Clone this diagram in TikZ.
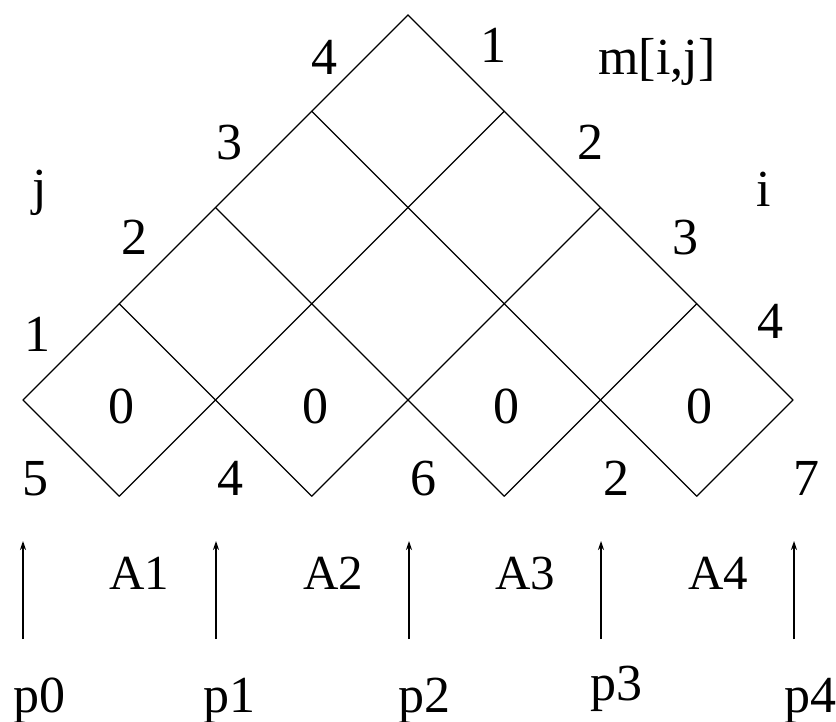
\documentclass[tikz,border=0pt]{standalone}
\usepackage{fontspec}
\setmainfont{Liberation Serif}
\usetikzlibrary{arrows.meta}
\tikzset{
  grid line/.style={line width=1.2pt, line cap=round, line join=miter},
  up arrow/.style={line width=1.3pt, -{Stealth[length=9pt,width=6pt]}},
  lbl/.style={anchor=base, inner sep=0pt, font=\fontsize{52}{52}\selectfont},
  albl/.style={lbl, font=\fontsize{49}{49}\selectfont}
}
\begin{document}
\begin{tikzpicture}[x=1pt,y=-1pt]
\useasboundingbox (0,0) rectangle (836,722);
% grid points
\coordinate (T)  at (408,15);
\coordinate (L1) at (311.75,111.25);
\coordinate (L2) at (215.5,207.5);
\coordinate (L3) at (119.25,303.75);
\coordinate (L4) at (23,400);
\coordinate (R1) at (504.25,111.25);
\coordinate (R2) at (600.5,207.5);
\coordinate (R3) at (696.75,303.75);
\coordinate (R4) at (793,400);
\coordinate (B1) at (119.25,496.25);
\coordinate (B2) at (311.75,496.25);
\coordinate (B3) at (504.25,496.25);
\coordinate (B4) at (696.75,496.25);
% outer edges
\draw[grid line] (L4) -- (T) -- (R4);
% SE lines
\draw[grid line] (L1) -- (B4);
\draw[grid line] (L2) -- (B3);
\draw[grid line] (L3) -- (B2);
\draw[grid line] (L4) -- (B1);
% NE lines
\draw[grid line] (B1) -- (R1);
\draw[grid line] (B2) -- (R2);
\draw[grid line] (B3) -- (R3);
\draw[grid line] (B4) -- (R4);
% labels on top
\node[lbl] (n4t) at (324,75) {4};
\node[lbl] (n1t) at (493,63) {1};
\node[lbl] (m) at (657,75) {m[i,j]};
\node[lbl] (n3l) at (229,160) {3};
\node[lbl] (n2r) at (590,160) {2};
\node[lbl] (jl) at (40,205) {j};
\node[lbl] (ir) at (764,207) {i};
\node[lbl] (n2l) at (134,255) {2};
\node[lbl] (n3r) at (685,255) {3};
\node[lbl] (n1l) at (37,352) {1};
\node[lbl] (n4r) at (770,338) {4};
% zeros
\node[lbl] (z1) at (121,423) {0};
\node[lbl] (z2) at (315,423) {0};
\node[lbl] (z3) at (506,423) {0};
\node[lbl] (z4) at (699,423) {0};
% dimensions
\node[lbl] (d0) at (35,495) {5};
\node[lbl] (d1) at (230,495) {4};
\node[lbl] (d2) at (423,495) {6};
\node[lbl] (d3) at (616,495) {2};
\node[lbl] (d4) at (806,495) {7};
% arrows
\coordinate (a0) at (23,639);   \coordinate (h0) at (23,541);
\coordinate (a1) at (216,639);  \coordinate (h1) at (216,541);
\coordinate (a2) at (409,639);  \coordinate (h2) at (409,541);
\coordinate (a3) at (601,639);  \coordinate (h3) at (601,541);
\coordinate (a4) at (794,639);  \coordinate (h4) at (794,541);
\foreach \k in {0,...,4} \draw[up arrow] (a\k) -- (h\k);
% matrices
\node[albl] (A1) at (139,589) {A1};
\node[albl] (A2) at (333,589) {A2};
\node[albl] (A3) at (525,589) {A3};
\node[albl] (A4) at (718,589) {A4};
% p labels
\node[lbl] (p0) at (39,712) {p0};
\node[lbl] (p1) at (229,712) {p1};
\node[lbl] (p2) at (424,712) {p2};
\node[lbl] (p3) at (616,700) {p3};
\node[lbl] (p4) at (810,712) {p4};
\end{tikzpicture}
\end{document}
